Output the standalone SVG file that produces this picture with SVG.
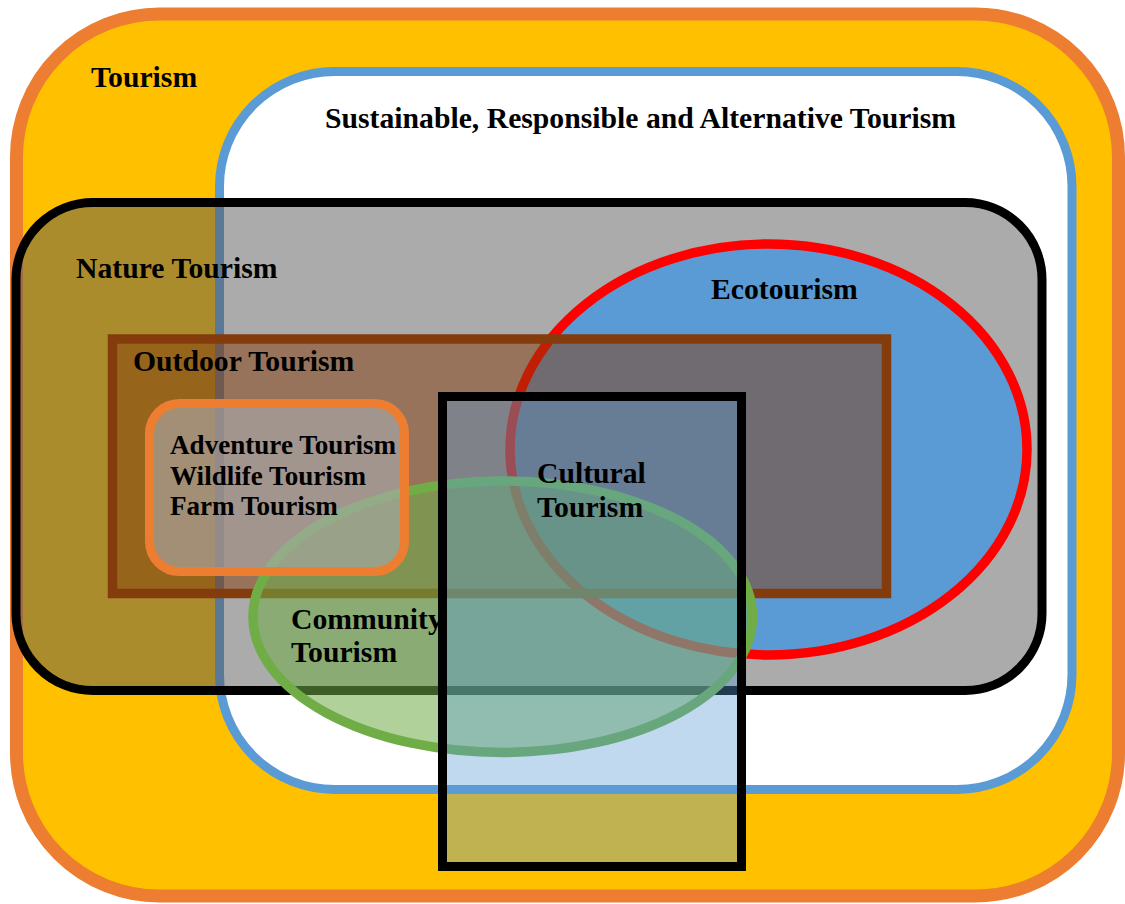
<svg xmlns="http://www.w3.org/2000/svg" width="1125" height="904" viewBox="0 0 1125 904">
<style>
text { font-family: "Liberation Serif", "Times New Roman", serif; font-weight: bold; font-size: 29.7px; fill: #000; }
.small { font-size: 27.1px; }
.tourism { fill: #FFC000; stroke: #ED7D31; stroke-width: 13; }
.sust { fill: #FFFFFF; stroke: #5B9BD5; stroke-width: 9; }
.nature { fill: #585858; fill-opacity: 0.5; stroke: #000; stroke-width: 9; }
.eco { fill: #5B9BD5; stroke: #FF0000; stroke-width: 9.5; }
.outdoor { fill: #843C0C; fill-opacity: 0.5; stroke: #843C0C; stroke-width: 9.5; }
.community { fill: #70AD47; fill-opacity: 0.55; stroke: #70AD47; stroke-width: 9.5; }
.adventure { fill: #AAAAAC; fill-opacity: 0.62; stroke: #ED7D31; stroke-width: 9; }
.cultural { fill: #5B9BD5; fill-opacity: 0.38; stroke: #000; stroke-width: 9; }
</style>
<rect width="1125" height="904" fill="#FFFFFF"/>
<g id="tourism">
  <rect class="tourism" x="16.5" y="14" width="1102" height="882" rx="143" ry="143"/>
  <text x="91" y="87">Tourism</text>
</g>
<g id="sustainable">
  <rect class="sust" x="219.5" y="71.5" width="852.5" height="718" rx="115" ry="115"/>
  <text x="325" y="128">Sustainable, Responsible and Alternative Tourism</text>
</g>
<g id="nature">
  <rect class="nature" x="16" y="202.5" width="1026" height="488" rx="77" ry="77"/>
  <text x="76" y="278">Nature Tourism</text>
</g>
<g id="ecotourism">
  <ellipse class="eco" cx="768.5" cy="449.5" rx="258.5" ry="205.5"/>
  <text x="711" y="299">Ecotourism</text>
</g>
<g id="outdoor">
  <rect class="outdoor" x="112.5" y="339" width="774" height="254.5"/>
  <text x="133" y="371">Outdoor Tourism</text>
</g>
<g id="community">
  <ellipse class="community" cx="502.75" cy="616.75" rx="249.75" ry="135.75"/>
  <text x="291" y="629">Community</text>
  <text x="291" y="662">Tourism</text>
</g>
<g id="adventure">
  <rect class="adventure" x="149.5" y="403.5" width="255" height="168" rx="30" ry="30"/>
  <text class="small" x="170" y="454">Adventure Tourism</text>
  <text class="small" x="170" y="484.5">Wildlife Tourism</text>
  <text class="small" x="170" y="515">Farm Tourism</text>
</g>
<g id="cultural">
  <rect class="cultural" x="442.5" y="396.5" width="299" height="470"/>
  <text x="537" y="483">Cultural</text>
  <text x="537" y="517">Tourism</text>
</g>
</svg>
